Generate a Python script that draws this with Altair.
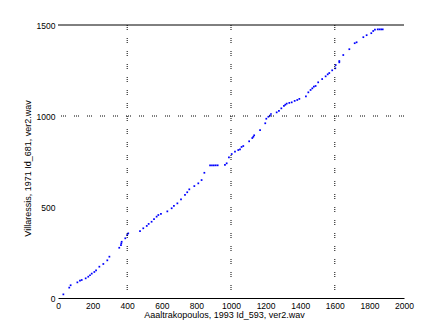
import altair as alt
import pandas as pd

# alignment path points (x: Aaltrakopoulos frames, y: Villaressis frames)
xs = [31, 65, 73, 112, 127, 137, 160, 175, 185, 195, 210, 220, 239, 262, 285, 297,
      354, 364, 366, 368, 389, 400, 406, 474, 493, 513, 524, 541, 555, 570, 580, 595,
      632, 657, 670, 690, 711, 734, 747, 759, 788, 811, 830, 846,
      879, 890, 901, 912, 923,
      965, 975, 988, 1004, 1023, 1042, 1052, 1061, 1071, 1105, 1123, 1129, 1134, 1168,
      1198, 1204, 1216, 1225, 1231, 1264, 1277, 1291, 1306, 1314, 1322, 1337, 1351,
      1368, 1383, 1395, 1433, 1447, 1460, 1470, 1479, 1489, 1504, 1527, 1547, 1559,
      1568, 1585, 1603, 1605, 1626, 1626, 1649, 1684, 1715, 1726, 1765, 1784, 1811,
      1822, 1832, 1848, 1858, 1868, 1877]
ys = [20, 57, 70, 86, 95, 99, 108, 117, 125, 134, 143, 152, 172, 187, 207, 227,
      276, 291, 300, 309, 328, 346, 355, 368, 383, 396, 407, 419, 434, 447, 456, 462,
      476, 493, 506, 520, 542, 566, 581, 597, 615, 630, 648, 688,
      729, 729, 729, 729, 729,
      731, 740, 773, 791, 804, 813, 817, 830, 835, 861, 879, 886, 894, 923,
      960, 985, 996, 1002, 1011, 1020, 1028, 1042, 1055, 1062, 1068, 1072, 1075,
      1083, 1088, 1094, 1108, 1130, 1143, 1152, 1161, 1165, 1185, 1203, 1218, 1229,
      1236, 1251, 1262, 1280, 1295, 1302, 1335, 1367, 1400, 1405, 1433, 1444, 1455,
      1467, 1474, 1476, 1476, 1476, 1476]

vlines = [400, 1000, 1600]
hlines = [1000]
top_line = [1500]
x_ticks = [0, 200, 400, 600, 800, 1000, 1200, 1400, 1600, 1800, 2000]
y_ticks = [0, 500, 1000, 1500]

FONT = "Liberation Sans"

xscale = alt.Scale(domain=[0, 2000], nice=False, zero=False)
yscale = alt.Scale(domain=[0, 1500], nice=False, zero=False)

x_axis = alt.Axis(values=x_ticks, format="d", grid=False, ticks=False, tickSize=0,
                  domain=True, domainColor="black", domainWidth=1,
                  labelFont=FONT, labelFontSize=8.5, labelColor="black",
                  labelPadding=3, labelFlush=False, labelOverlap=False,
                  title="Aaaltrakopoulos, 1993  Id_593, ver2.wav",
                  titleFont=FONT, titleFontSize=9, titleFontWeight="normal",
                  titleColor="black", titleX=166, titleY=16,
                  titleBaseline="middle", titleAlign="center")
y_axis = alt.Axis(values=y_ticks, format="d", grid=False, ticks=False, tickSize=0,
                  domain=False,
                  labelFont=FONT, labelFontSize=8.5, labelColor="black",
                  labelPadding=3, labelFlush=False, labelOverlap=False,
                  title="Villaressis, 1971  Id_681, ver2.wav",
                  titleFont=FONT, titleFontSize=9, titleFontWeight="normal",
                  titleColor="black", titleX=-31, titleY=143, titleAngle=270,
                  titleBaseline="middle", titleAlign="center")

pts = pd.DataFrame({"x": xs, "y": ys})

points = alt.Chart(pts).mark_square(size=3, color="#0000ff", opacity=1).encode(
    x=alt.X("x:Q", scale=xscale, axis=x_axis),
    y=alt.Y("y:Q", scale=yscale, axis=y_axis),
)

vrules = alt.Chart(pd.DataFrame({"x": vlines})).mark_rule(
    color="black", strokeWidth=1, strokeDash=[1, 1, 1, 1, 1, 8]
).encode(x=alt.X("x:Q", scale=xscale, axis=x_axis))

hrules = alt.Chart(pd.DataFrame({"y": hlines})).mark_rule(
    color="black", strokeWidth=1, strokeDash=[1, 1, 1, 1, 1, 8]
).encode(y=alt.Y("y:Q", scale=yscale, axis=y_axis))

toprule = alt.Chart(pd.DataFrame({"y": top_line})).mark_rule(
    color="black", strokeWidth=1
).encode(y=alt.Y("y:Q", scale=yscale, axis=y_axis))

chart = alt.layer(points, vrules, hrules, toprule).properties(
    width=346, height=273,
    autosize=alt.AutoSizeParams(type="none"),
    padding={"left": 58, "top": 25, "right": 43, "bottom": 37},
    background="white",
).configure_view(stroke=None)

chart.save("out.html", embed_options={"renderer": "svg", "actions": False})
